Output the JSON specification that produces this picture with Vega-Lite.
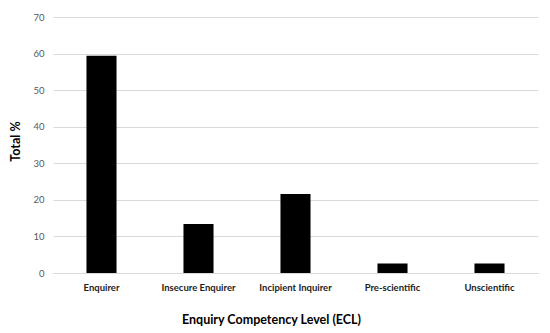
{
  "$schema": "https://vega.github.io/schema/vega-lite/v6.json",
  "width": 485,
  "height": 256,
  "autosize": "none",
  "padding": {"left": 53, "top": 17, "right": 12, "bottom": 60},
  "background": "white",
  "config": {"view": {"stroke": null}, "font": "Lato"},
  "data": {
    "values": [
      {"level": "Enquirer", "total": 59.4},
      {"level": "Insecure Enquirer", "total": 13.4},
      {"level": "Incipient Inquirer", "total": 21.6},
      {"level": "Pre-scientific", "total": 2.6},
      {"level": "Unscientific", "total": 2.6}
    ]
  },
  "mark": {"type": "bar", "color": "black"},
  "encoding": {
    "x": {
      "field": "level",
      "type": "nominal",
      "sort": null,
      "scale": {"paddingInner": 0.69, "paddingOuter": 0.345},
      "axis": {
        "title": "Enquiry Competency Level (ECL)",
        "titleFont": "Lato",
        "titleFontSize": 12.5,
        "titleFontWeight": "bold",
        "titleColor": "black",
        "titleX": 218,
        "titleY": 46,
        "titleBaseline": "middle",
        "labelAngle": 0,
        "labelFontSize": 9.5,
        "labelFontWeight": "bold",
        "labelColor": "#222",
        "labelPadding": 9,
        "ticks": false,
        "domainColor": "#d9d9d9",
        "grid": false
      }
    },
    "y": {
      "field": "total",
      "type": "quantitative",
      "scale": {"domain": [0, 70]},
      "axis": {
        "title": "Total %",
        "titleFontSize": 12.5,
        "titleFontWeight": "bold",
        "titleColor": "black",
        "titleX": -38,
        "titleY": 124,
        "titleBaseline": "middle",
        "titleAngle": -90,
        "values": [0, 10, 20, 30, 40, 50, 60, 70],
        "labelFontSize": 9.5,
        "labelColor": "#595959",
        "labelPadding": 9,
        "ticks": false,
        "domain": false,
        "gridColor": "#d9d9d9"
      }
    }
  }
}
